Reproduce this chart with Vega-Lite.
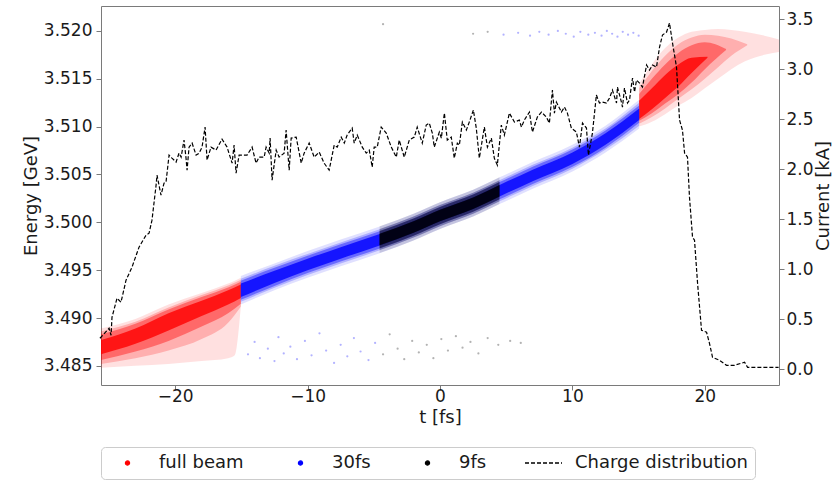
{
  "$schema": "https://vega.github.io/schema/vega-lite/v6.json",
  "width": 678,
  "height": 379,
  "autosize": {"type": "none"},
  "padding": {"left": 101, "top": 6, "right": 53, "bottom": 100},
  "config": {
    "font": "DejaVu Sans",
    "view": {"stroke": "#7a7a7a", "strokeWidth": 1},
    "axis": {
      "labelFont": "DejaVu Sans", "titleFont": "DejaVu Sans",
      "labelFontSize": 17, "titleFontSize": 18, "titleFontWeight": "normal",
      "labelColor": "#1a1a1a", "titleColor": "#1a1a1a",
      "tickColor": "#7a7a7a", "tickSize": 5, "domain": false, "grid": false,
      "labelFlush": false, "labelOverlap": false
    }
  },
  "datasets": {
    "band": [
      {"beam": "full beam", "part": "L", "level": "halo", "t": -25.6, "lo": 3.4848, "hi": 3.4889},
      {"beam": "full beam", "part": "L", "level": "halo", "t": -23, "lo": 3.4850, "hi": 3.4899},
      {"beam": "full beam", "part": "L", "level": "halo", "t": -20.5, "lo": 3.4852, "hi": 3.4914},
      {"beam": "full beam", "part": "L", "level": "halo", "t": -18, "lo": 3.4855, "hi": 3.4926},
      {"beam": "full beam", "part": "L", "level": "halo", "t": -16, "lo": 3.4858, "hi": 3.4936},
      {"beam": "full beam", "part": "L", "level": "halo", "t": -15.5, "lo": 3.4861, "hi": 3.4939},
      {"beam": "full beam", "part": "L", "level": "halo", "t": -15.04, "lo": 3.4912, "hi": 3.4942},
      {"beam": "full beam", "part": "L", "level": "outer", "t": -25.6, "lo": 3.4852, "hi": 3.4886},
      {"beam": "full beam", "part": "L", "level": "outer", "t": -23, "lo": 3.4858, "hi": 3.4896},
      {"beam": "full beam", "part": "L", "level": "outer", "t": -20.5, "lo": 3.4866, "hi": 3.4911},
      {"beam": "full beam", "part": "L", "level": "outer", "t": -18, "lo": 3.4878, "hi": 3.4924},
      {"beam": "full beam", "part": "L", "level": "outer", "t": -16, "lo": 3.4895, "hi": 3.4934},
      {"beam": "full beam", "part": "L", "level": "outer", "t": -15.04, "lo": 3.4912, "hi": 3.4940},
      {"beam": "full beam", "part": "L", "level": "mid", "t": -25.6, "lo": 3.4856, "hi": 3.4883},
      {"beam": "full beam", "part": "L", "level": "mid", "t": -23, "lo": 3.4865, "hi": 3.4894},
      {"beam": "full beam", "part": "L", "level": "mid", "t": -20.5, "lo": 3.4876, "hi": 3.4909},
      {"beam": "full beam", "part": "L", "level": "mid", "t": -18, "lo": 3.4891, "hi": 3.4922},
      {"beam": "full beam", "part": "L", "level": "mid", "t": -16, "lo": 3.4905, "hi": 3.4932},
      {"beam": "full beam", "part": "L", "level": "mid", "t": -15.04, "lo": 3.4915, "hi": 3.4938},
      {"beam": "full beam", "part": "L", "level": "core", "t": -25.6, "lo": 3.4862, "hi": 3.4877},
      {"beam": "full beam", "part": "L", "level": "core", "t": -23, "lo": 3.4873, "hi": 3.4889},
      {"beam": "full beam", "part": "L", "level": "core", "t": -20.5, "lo": 3.4887, "hi": 3.4905},
      {"beam": "full beam", "part": "L", "level": "core", "t": -18, "lo": 3.4902, "hi": 3.4918},
      {"beam": "full beam", "part": "L", "level": "core", "t": -16, "lo": 3.4914, "hi": 3.4929},
      {"beam": "full beam", "part": "L", "level": "core", "t": -15.04, "lo": 3.4921, "hi": 3.4935},

      {"beam": "full beam", "part": "R", "level": "halo", "t": 15.04, "lo": 3.5100, "hi": 3.5145},
      {"beam": "full beam", "part": "R", "level": "halo", "t": 16, "lo": 3.5105, "hi": 3.5165},
      {"beam": "full beam", "part": "R", "level": "halo", "t": 17, "lo": 3.5113, "hi": 3.5182},
      {"beam": "full beam", "part": "R", "level": "halo", "t": 18, "lo": 3.5122, "hi": 3.5193},
      {"beam": "full beam", "part": "R", "level": "halo", "t": 19, "lo": 3.5130, "hi": 3.5199},
      {"beam": "full beam", "part": "R", "level": "halo", "t": 20, "lo": 3.5140, "hi": 3.5201},
      {"beam": "full beam", "part": "R", "level": "halo", "t": 21, "lo": 3.5150, "hi": 3.5202},
      {"beam": "full beam", "part": "R", "level": "halo", "t": 22, "lo": 3.5160, "hi": 3.5201},
      {"beam": "full beam", "part": "R", "level": "halo", "t": 23, "lo": 3.5168, "hi": 3.5199},
      {"beam": "full beam", "part": "R", "level": "halo", "t": 24.5, "lo": 3.5175, "hi": 3.5195},
      {"beam": "full beam", "part": "R", "level": "halo", "t": 25.6, "lo": 3.5178, "hi": 3.5191},
      {"beam": "full beam", "part": "R", "level": "outer", "t": 15.04, "lo": 3.5103, "hi": 3.5140},
      {"beam": "full beam", "part": "R", "level": "outer", "t": 16, "lo": 3.5110, "hi": 3.5158},
      {"beam": "full beam", "part": "R", "level": "outer", "t": 17, "lo": 3.5119, "hi": 3.5174},
      {"beam": "full beam", "part": "R", "level": "outer", "t": 18, "lo": 3.5129, "hi": 3.5186},
      {"beam": "full beam", "part": "R", "level": "outer", "t": 19, "lo": 3.5139, "hi": 3.5193},
      {"beam": "full beam", "part": "R", "level": "outer", "t": 20, "lo": 3.5150, "hi": 3.5196},
      {"beam": "full beam", "part": "R", "level": "outer", "t": 21, "lo": 3.5162, "hi": 3.5195},
      {"beam": "full beam", "part": "R", "level": "outer", "t": 22, "lo": 3.5174, "hi": 3.5192},
      {"beam": "full beam", "part": "R", "level": "outer", "t": 23.2, "lo": 3.5185, "hi": 3.5186},
      {"beam": "full beam", "part": "R", "level": "mid", "t": 15.04, "lo": 3.5106, "hi": 3.5134},
      {"beam": "full beam", "part": "R", "level": "mid", "t": 16, "lo": 3.5114, "hi": 3.5150},
      {"beam": "full beam", "part": "R", "level": "mid", "t": 17, "lo": 3.5124, "hi": 3.5165},
      {"beam": "full beam", "part": "R", "level": "mid", "t": 18, "lo": 3.5134, "hi": 3.5177},
      {"beam": "full beam", "part": "R", "level": "mid", "t": 19, "lo": 3.5146, "hi": 3.5185},
      {"beam": "full beam", "part": "R", "level": "mid", "t": 20, "lo": 3.5160, "hi": 3.5188},
      {"beam": "full beam", "part": "R", "level": "mid", "t": 21.6, "lo": 3.5180, "hi": 3.5181},
      {"beam": "full beam", "part": "R", "level": "core", "t": 15.04, "lo": 3.5108, "hi": 3.5127},
      {"beam": "full beam", "part": "R", "level": "core", "t": 16, "lo": 3.5118, "hi": 3.5140},
      {"beam": "full beam", "part": "R", "level": "core", "t": 17, "lo": 3.5130, "hi": 3.5154},
      {"beam": "full beam", "part": "R", "level": "core", "t": 18, "lo": 3.5142, "hi": 3.5165},
      {"beam": "full beam", "part": "R", "level": "core", "t": 19, "lo": 3.5156, "hi": 3.5172},
      {"beam": "full beam", "part": "R", "level": "core", "t": 20.2, "lo": 3.5172, "hi": 3.5173},

      {"beam": "30fs", "part": "M", "level": "halo", "t": -15.04, "lo": 3.4914, "hi": 3.4944},
      {"beam": "30fs", "part": "M", "level": "halo", "t": -12.5, "lo": 3.4929, "hi": 3.4957},
      {"beam": "30fs", "part": "M", "level": "halo", "t": -10, "lo": 3.4942, "hi": 3.4970},
      {"beam": "30fs", "part": "M", "level": "halo", "t": -7.5, "lo": 3.4954, "hi": 3.4982},
      {"beam": "30fs", "part": "M", "level": "halo", "t": -4.5, "lo": 3.4968, "hi": 3.4996},
      {"beam": "30fs", "part": "M", "level": "halo", "t": -2, "lo": 3.4981, "hi": 3.5009},
      {"beam": "30fs", "part": "M", "level": "halo", "t": 0, "lo": 3.4993, "hi": 3.5021},
      {"beam": "30fs", "part": "M", "level": "halo", "t": 2.5, "lo": 3.5006, "hi": 3.5034},
      {"beam": "30fs", "part": "M", "level": "halo", "t": 4.5, "lo": 3.5019, "hi": 3.5047},
      {"beam": "30fs", "part": "M", "level": "halo", "t": 7, "lo": 3.5035, "hi": 3.5063},
      {"beam": "30fs", "part": "M", "level": "halo", "t": 10, "lo": 3.5053, "hi": 3.5081},
      {"beam": "30fs", "part": "M", "level": "halo", "t": 12.5, "lo": 3.5073, "hi": 3.5101},
      {"beam": "30fs", "part": "M", "level": "halo", "t": 15.04, "lo": 3.5098, "hi": 3.5128},
      {"beam": "30fs", "part": "M", "level": "outer", "t": -15.04, "lo": 3.4917, "hi": 3.4941},
      {"beam": "30fs", "part": "M", "level": "outer", "t": -12.5, "lo": 3.49315, "hi": 3.49545},
      {"beam": "30fs", "part": "M", "level": "outer", "t": -10, "lo": 3.4945, "hi": 3.4967},
      {"beam": "30fs", "part": "M", "level": "outer", "t": -7.5, "lo": 3.4957, "hi": 3.4979},
      {"beam": "30fs", "part": "M", "level": "outer", "t": -4.5, "lo": 3.4971, "hi": 3.4993},
      {"beam": "30fs", "part": "M", "level": "outer", "t": -2, "lo": 3.4984, "hi": 3.5006},
      {"beam": "30fs", "part": "M", "level": "outer", "t": 0, "lo": 3.4996, "hi": 3.5018},
      {"beam": "30fs", "part": "M", "level": "outer", "t": 2.5, "lo": 3.5009, "hi": 3.5031},
      {"beam": "30fs", "part": "M", "level": "outer", "t": 4.5, "lo": 3.5022, "hi": 3.5044},
      {"beam": "30fs", "part": "M", "level": "outer", "t": 7, "lo": 3.5038, "hi": 3.5060},
      {"beam": "30fs", "part": "M", "level": "outer", "t": 10, "lo": 3.5056, "hi": 3.5078},
      {"beam": "30fs", "part": "M", "level": "outer", "t": 12.5, "lo": 3.5076, "hi": 3.5098},
      {"beam": "30fs", "part": "M", "level": "outer", "t": 15.04, "lo": 3.5101, "hi": 3.5125},
      {"beam": "30fs", "part": "M", "level": "mid", "t": -15.04, "lo": 3.4919, "hi": 3.4939},
      {"beam": "30fs", "part": "M", "level": "mid", "t": -12.5, "lo": 3.49335, "hi": 3.49525},
      {"beam": "30fs", "part": "M", "level": "mid", "t": -10, "lo": 3.4947, "hi": 3.4965},
      {"beam": "30fs", "part": "M", "level": "mid", "t": -7.5, "lo": 3.4959, "hi": 3.4977},
      {"beam": "30fs", "part": "M", "level": "mid", "t": -4.5, "lo": 3.4973, "hi": 3.4991},
      {"beam": "30fs", "part": "M", "level": "mid", "t": -2, "lo": 3.4986, "hi": 3.5004},
      {"beam": "30fs", "part": "M", "level": "mid", "t": 0, "lo": 3.4998, "hi": 3.5016},
      {"beam": "30fs", "part": "M", "level": "mid", "t": 2.5, "lo": 3.5011, "hi": 3.5029},
      {"beam": "30fs", "part": "M", "level": "mid", "t": 4.5, "lo": 3.5024, "hi": 3.5042},
      {"beam": "30fs", "part": "M", "level": "mid", "t": 7, "lo": 3.5040, "hi": 3.5058},
      {"beam": "30fs", "part": "M", "level": "mid", "t": 10, "lo": 3.5058, "hi": 3.5076},
      {"beam": "30fs", "part": "M", "level": "mid", "t": 12.5, "lo": 3.5078, "hi": 3.5096},
      {"beam": "30fs", "part": "M", "level": "mid", "t": 15.04, "lo": 3.5104, "hi": 3.5122},
      {"beam": "30fs", "part": "M", "level": "core", "t": -15.04, "lo": 3.4922, "hi": 3.4936},
      {"beam": "30fs", "part": "M", "level": "core", "t": -12.5, "lo": 3.49365, "hi": 3.49495},
      {"beam": "30fs", "part": "M", "level": "core", "t": -10, "lo": 3.4950, "hi": 3.4962},
      {"beam": "30fs", "part": "M", "level": "core", "t": -7.5, "lo": 3.4962, "hi": 3.4974},
      {"beam": "30fs", "part": "M", "level": "core", "t": -4.5, "lo": 3.4976, "hi": 3.4988},
      {"beam": "30fs", "part": "M", "level": "core", "t": -2, "lo": 3.4989, "hi": 3.5001},
      {"beam": "30fs", "part": "M", "level": "core", "t": 0, "lo": 3.5001, "hi": 3.5013},
      {"beam": "30fs", "part": "M", "level": "core", "t": 2.5, "lo": 3.5014, "hi": 3.5026},
      {"beam": "30fs", "part": "M", "level": "core", "t": 4.5, "lo": 3.5027, "hi": 3.5039},
      {"beam": "30fs", "part": "M", "level": "core", "t": 7, "lo": 3.5043, "hi": 3.5055},
      {"beam": "30fs", "part": "M", "level": "core", "t": 10, "lo": 3.5061, "hi": 3.5073},
      {"beam": "30fs", "part": "M", "level": "core", "t": 12.5, "lo": 3.5081, "hi": 3.5093},
      {"beam": "30fs", "part": "M", "level": "core", "t": 15.04, "lo": 3.5107, "hi": 3.5119},

      {"beam": "9fs", "part": "M", "level": "halo", "t": -4.56, "lo": 3.4968, "hi": 3.4996},
      {"beam": "9fs", "part": "M", "level": "halo", "t": -2, "lo": 3.4981, "hi": 3.5009},
      {"beam": "9fs", "part": "M", "level": "halo", "t": 0, "lo": 3.4993, "hi": 3.5021},
      {"beam": "9fs", "part": "M", "level": "halo", "t": 2.5, "lo": 3.5006, "hi": 3.5034},
      {"beam": "9fs", "part": "M", "level": "halo", "t": 4.49, "lo": 3.5019, "hi": 3.5047},
      {"beam": "9fs", "part": "M", "level": "outer", "t": -4.56, "lo": 3.4971, "hi": 3.4993},
      {"beam": "9fs", "part": "M", "level": "outer", "t": -2, "lo": 3.4984, "hi": 3.5006},
      {"beam": "9fs", "part": "M", "level": "outer", "t": 0, "lo": 3.4996, "hi": 3.5018},
      {"beam": "9fs", "part": "M", "level": "outer", "t": 2.5, "lo": 3.5009, "hi": 3.5031},
      {"beam": "9fs", "part": "M", "level": "outer", "t": 4.49, "lo": 3.5022, "hi": 3.5044},
      {"beam": "9fs", "part": "M", "level": "mid", "t": -4.56, "lo": 3.4973, "hi": 3.4991},
      {"beam": "9fs", "part": "M", "level": "mid", "t": -2, "lo": 3.4986, "hi": 3.5004},
      {"beam": "9fs", "part": "M", "level": "mid", "t": 0, "lo": 3.4998, "hi": 3.5016},
      {"beam": "9fs", "part": "M", "level": "mid", "t": 2.5, "lo": 3.5011, "hi": 3.5029},
      {"beam": "9fs", "part": "M", "level": "mid", "t": 4.49, "lo": 3.5024, "hi": 3.5042},
      {"beam": "9fs", "part": "M", "level": "core", "t": -4.56, "lo": 3.4976, "hi": 3.4988},
      {"beam": "9fs", "part": "M", "level": "core", "t": -2, "lo": 3.4989, "hi": 3.5001},
      {"beam": "9fs", "part": "M", "level": "core", "t": 0, "lo": 3.5001, "hi": 3.5013},
      {"beam": "9fs", "part": "M", "level": "core", "t": 2.5, "lo": 3.5014, "hi": 3.5026},
      {"beam": "9fs", "part": "M", "level": "core", "t": 4.49, "lo": 3.5027, "hi": 3.5039}
    ],
    "halo": [
      {"beam": "30fs", "t": -14.5, "e": 3.4862}, {"beam": "30fs", "t": -14.0, "e": 3.4875},
      {"beam": "30fs", "t": -13.6, "e": 3.4858}, {"beam": "30fs", "t": -13.0, "e": 3.4868},
      {"beam": "30fs", "t": -12.5, "e": 3.4855}, {"beam": "30fs", "t": -12.2, "e": 3.4880},
      {"beam": "30fs", "t": -11.8, "e": 3.4863}, {"beam": "30fs", "t": -11.3, "e": 3.4870},
      {"beam": "30fs", "t": -10.8, "e": 3.4857}, {"beam": "30fs", "t": -10.2, "e": 3.4876},
      {"beam": "30fs", "t": -9.7, "e": 3.4861}, {"beam": "30fs", "t": -9.1, "e": 3.4884},
      {"beam": "30fs", "t": -8.6, "e": 3.4866}, {"beam": "30fs", "t": -8.0, "e": 3.4853},
      {"beam": "30fs", "t": -7.5, "e": 3.4872}, {"beam": "30fs", "t": -7.0, "e": 3.4860},
      {"beam": "30fs", "t": -6.5, "e": 3.4879}, {"beam": "30fs", "t": -6.0, "e": 3.4865},
      {"beam": "30fs", "t": -5.4, "e": 3.4856}, {"beam": "30fs", "t": -4.9, "e": 3.4874},
      {"beam": "9fs", "t": -4.3, "e": 3.4862}, {"beam": "9fs", "t": -3.8, "e": 3.4883},
      {"beam": "9fs", "t": -3.2, "e": 3.4868}, {"beam": "9fs", "t": -2.7, "e": 3.4857},
      {"beam": "9fs", "t": -2.1, "e": 3.4876}, {"beam": "9fs", "t": -1.6, "e": 3.4864},
      {"beam": "9fs", "t": -1.0, "e": 3.4872}, {"beam": "9fs", "t": -0.5, "e": 3.4858},
      {"beam": "9fs", "t": 0.1, "e": 3.4878}, {"beam": "9fs", "t": 0.6, "e": 3.4866},
      {"beam": "9fs", "t": 1.2, "e": 3.4881}, {"beam": "9fs", "t": 1.7, "e": 3.4869},
      {"beam": "9fs", "t": 2.3, "e": 3.4875}, {"beam": "9fs", "t": 2.9, "e": 3.4863},
      {"beam": "9fs", "t": 3.6, "e": 3.4879}, {"beam": "9fs", "t": 4.4, "e": 3.4872},
      {"beam": "9fs", "t": 5.3, "e": 3.4876}, {"beam": "9fs", "t": 6.1, "e": 3.4874},
      {"beam": "9fs", "t": -4.3, "e": 3.5207}, {"beam": "9fs", "t": 2.5, "e": 3.5197},
      {"beam": "9fs", "t": 3.6, "e": 3.5199}, {"beam": "30fs", "t": 4.8, "e": 3.5196},
      {"beam": "30fs", "t": 5.9, "e": 3.5198}, {"beam": "30fs", "t": 6.8, "e": 3.5195},
      {"beam": "30fs", "t": 7.5, "e": 3.5199}, {"beam": "30fs", "t": 8.2, "e": 3.5196},
      {"beam": "30fs", "t": 8.9, "e": 3.5200}, {"beam": "30fs", "t": 9.5, "e": 3.5197},
      {"beam": "30fs", "t": 10.1, "e": 3.5194}, {"beam": "30fs", "t": 10.6, "e": 3.5199},
      {"beam": "30fs", "t": 11.2, "e": 3.5196}, {"beam": "30fs", "t": 11.7, "e": 3.5198},
      {"beam": "30fs", "t": 12.2, "e": 3.5195}, {"beam": "30fs", "t": 12.6, "e": 3.5200},
      {"beam": "30fs", "t": 13.0, "e": 3.5197}, {"beam": "30fs", "t": 13.4, "e": 3.5194},
      {"beam": "30fs", "t": 13.8, "e": 3.5199}, {"beam": "30fs", "t": 14.2, "e": 3.5196},
      {"beam": "30fs", "t": 14.6, "e": 3.5198}, {"beam": "30fs", "t": 15.0, "e": 3.5195}
    ],
    "cur": [
      {"beam": "Charge distribution", "t": -25.68, "kA": 0.31},
      {"beam": "Charge distribution", "t": -24.99, "kA": 0.41},
      {"beam": "Charge distribution", "t": -24.84, "kA": 0.34},
      {"beam": "Charge distribution", "t": -24.77, "kA": 0.52},
      {"beam": "Charge distribution", "t": -24.39, "kA": 0.71},
      {"beam": "Charge distribution", "t": -24.09, "kA": 0.67},
      {"beam": "Charge distribution", "t": -23.71, "kA": 0.89},
      {"beam": "Charge distribution", "t": -23.26, "kA": 1.02},
      {"beam": "Charge distribution", "t": -22.73, "kA": 1.22},
      {"beam": "Charge distribution", "t": -22.20, "kA": 1.34},
      {"beam": "Charge distribution", "t": -21.97, "kA": 1.36},
      {"beam": "Charge distribution", "t": -21.75, "kA": 1.49},
      {"beam": "Charge distribution", "t": -21.44, "kA": 1.84},
      {"beam": "Charge distribution", "t": -21.37, "kA": 1.94},
      {"beam": "Charge distribution", "t": -21.07, "kA": 1.74},
      {"beam": "Charge distribution", "t": -20.84, "kA": 1.86},
      {"beam": "Charge distribution", "t": -20.69, "kA": 1.87},
      {"beam": "Charge distribution", "t": -20.46, "kA": 2.14},
      {"beam": "Charge distribution", "t": -20.24, "kA": 2.11},
      {"beam": "Charge distribution", "t": -19.93, "kA": 2.07},
      {"beam": "Charge distribution", "t": -19.71, "kA": 2.16},
      {"beam": "Charge distribution", "t": -19.55, "kA": 2.12},
      {"beam": "Charge distribution", "t": -19.33, "kA": 2.29},
      {"beam": "Charge distribution", "t": -19.18, "kA": 2.11},
      {"beam": "Charge distribution", "t": -19.10, "kA": 1.99},
      {"beam": "Charge distribution", "t": -18.95, "kA": 2.22},
      {"beam": "Charge distribution", "t": -18.72, "kA": 2.26},
      {"beam": "Charge distribution", "t": -18.42, "kA": 2.14},
      {"beam": "Charge distribution", "t": -18.19, "kA": 2.16},
      {"beam": "Charge distribution", "t": -17.97, "kA": 2.22},
      {"beam": "Charge distribution", "t": -17.74, "kA": 2.42},
      {"beam": "Charge distribution", "t": -17.59, "kA": 2.09},
      {"beam": "Charge distribution", "t": -17.29, "kA": 2.22},
      {"beam": "Charge distribution", "t": -16.91, "kA": 2.19},
      {"beam": "Charge distribution", "t": -16.46, "kA": 2.30},
      {"beam": "Charge distribution", "t": -16.08, "kA": 2.22},
      {"beam": "Charge distribution", "t": -15.70, "kA": 2.06},
      {"beam": "Charge distribution", "t": -15.55, "kA": 2.24},
      {"beam": "Charge distribution", "t": -15.40, "kA": 1.96},
      {"beam": "Charge distribution", "t": -15.17, "kA": 2.14},
      {"beam": "Charge distribution", "t": -14.79, "kA": 2.14},
      {"beam": "Charge distribution", "t": -14.57, "kA": 2.14},
      {"beam": "Charge distribution", "t": -14.19, "kA": 2.22},
      {"beam": "Charge distribution", "t": -13.89, "kA": 2.06},
      {"beam": "Charge distribution", "t": -13.66, "kA": 2.12},
      {"beam": "Charge distribution", "t": -13.28, "kA": 2.12},
      {"beam": "Charge distribution", "t": -13.13, "kA": 2.22},
      {"beam": "Charge distribution", "t": -12.90, "kA": 2.16},
      {"beam": "Charge distribution", "t": -12.83, "kA": 2.31},
      {"beam": "Charge distribution", "t": -12.68, "kA": 1.89},
      {"beam": "Charge distribution", "t": -12.37, "kA": 2.19},
      {"beam": "Charge distribution", "t": -12.15, "kA": 2.12},
      {"beam": "Charge distribution", "t": -11.77, "kA": 2.16},
      {"beam": "Charge distribution", "t": -11.62, "kA": 2.39},
      {"beam": "Charge distribution", "t": -11.39, "kA": 1.99},
      {"beam": "Charge distribution", "t": -11.24, "kA": 2.31},
      {"beam": "Charge distribution", "t": -10.86, "kA": 2.32},
      {"beam": "Charge distribution", "t": -10.48, "kA": 2.06},
      {"beam": "Charge distribution", "t": -10.26, "kA": 2.16},
      {"beam": "Charge distribution", "t": -9.88, "kA": 2.26},
      {"beam": "Charge distribution", "t": -9.50, "kA": 2.12},
      {"beam": "Charge distribution", "t": -9.12, "kA": 2.17},
      {"beam": "Charge distribution", "t": -8.75, "kA": 2.06},
      {"beam": "Charge distribution", "t": -8.37, "kA": 1.99},
      {"beam": "Charge distribution", "t": -7.99, "kA": 2.24},
      {"beam": "Charge distribution", "t": -7.76, "kA": 2.22},
      {"beam": "Charge distribution", "t": -7.46, "kA": 2.32},
      {"beam": "Charge distribution", "t": -7.23, "kA": 2.26},
      {"beam": "Charge distribution", "t": -7.01, "kA": 2.34},
      {"beam": "Charge distribution", "t": -6.63, "kA": 2.41},
      {"beam": "Charge distribution", "t": -6.48, "kA": 2.26},
      {"beam": "Charge distribution", "t": -6.25, "kA": 2.34},
      {"beam": "Charge distribution", "t": -5.87, "kA": 2.22},
      {"beam": "Charge distribution", "t": -5.57, "kA": 2.16},
      {"beam": "Charge distribution", "t": -5.34, "kA": 2.19},
      {"beam": "Charge distribution", "t": -5.12, "kA": 2.02},
      {"beam": "Charge distribution", "t": -4.97, "kA": 2.22},
      {"beam": "Charge distribution", "t": -4.74, "kA": 2.22},
      {"beam": "Charge distribution", "t": -4.44, "kA": 2.42},
      {"beam": "Charge distribution", "t": -4.06, "kA": 2.36},
      {"beam": "Charge distribution", "t": -3.68, "kA": 2.22},
      {"beam": "Charge distribution", "t": -3.30, "kA": 2.12},
      {"beam": "Charge distribution", "t": -3.08, "kA": 2.29},
      {"beam": "Charge distribution", "t": -2.70, "kA": 2.12},
      {"beam": "Charge distribution", "t": -2.32, "kA": 2.29},
      {"beam": "Charge distribution", "t": -1.94, "kA": 2.32},
      {"beam": "Charge distribution", "t": -1.72, "kA": 2.42},
      {"beam": "Charge distribution", "t": -1.34, "kA": 2.26},
      {"beam": "Charge distribution", "t": -1.04, "kA": 2.44},
      {"beam": "Charge distribution", "t": -0.81, "kA": 2.46},
      {"beam": "Charge distribution", "t": -0.58, "kA": 2.36},
      {"beam": "Charge distribution", "t": -0.43, "kA": 2.22},
      {"beam": "Charge distribution", "t": -0.05, "kA": 2.37},
      {"beam": "Charge distribution", "t": 0.10, "kA": 2.31},
      {"beam": "Charge distribution", "t": 0.33, "kA": 2.56},
      {"beam": "Charge distribution", "t": 0.55, "kA": 2.29},
      {"beam": "Charge distribution", "t": 0.85, "kA": 2.32},
      {"beam": "Charge distribution", "t": 1.08, "kA": 2.11},
      {"beam": "Charge distribution", "t": 1.31, "kA": 2.26},
      {"beam": "Charge distribution", "t": 1.46, "kA": 2.24},
      {"beam": "Charge distribution", "t": 1.69, "kA": 2.47},
      {"beam": "Charge distribution", "t": 1.99, "kA": 2.39},
      {"beam": "Charge distribution", "t": 2.21, "kA": 2.47},
      {"beam": "Charge distribution", "t": 2.52, "kA": 2.59},
      {"beam": "Charge distribution", "t": 2.74, "kA": 2.41},
      {"beam": "Charge distribution", "t": 2.97, "kA": 2.11},
      {"beam": "Charge distribution", "t": 3.35, "kA": 2.42},
      {"beam": "Charge distribution", "t": 3.58, "kA": 2.22},
      {"beam": "Charge distribution", "t": 3.88, "kA": 2.31},
      {"beam": "Charge distribution", "t": 4.10, "kA": 2.11},
      {"beam": "Charge distribution", "t": 4.33, "kA": 2.04},
      {"beam": "Charge distribution", "t": 4.63, "kA": 2.44},
      {"beam": "Charge distribution", "t": 4.86, "kA": 2.34},
      {"beam": "Charge distribution", "t": 5.24, "kA": 2.56},
      {"beam": "Charge distribution", "t": 5.62, "kA": 2.47},
      {"beam": "Charge distribution", "t": 5.99, "kA": 2.49},
      {"beam": "Charge distribution", "t": 6.15, "kA": 2.42},
      {"beam": "Charge distribution", "t": 6.37, "kA": 2.49},
      {"beam": "Charge distribution", "t": 6.75, "kA": 2.57},
      {"beam": "Charge distribution", "t": 6.98, "kA": 2.37},
      {"beam": "Charge distribution", "t": 7.35, "kA": 2.52},
      {"beam": "Charge distribution", "t": 7.66, "kA": 2.57},
      {"beam": "Charge distribution", "t": 8.03, "kA": 2.52},
      {"beam": "Charge distribution", "t": 8.26, "kA": 2.46},
      {"beam": "Charge distribution", "t": 8.49, "kA": 2.79},
      {"beam": "Charge distribution", "t": 8.64, "kA": 2.56},
      {"beam": "Charge distribution", "t": 8.79, "kA": 2.67},
      {"beam": "Charge distribution", "t": 9.17, "kA": 2.57},
      {"beam": "Charge distribution", "t": 9.40, "kA": 2.62},
      {"beam": "Charge distribution", "t": 9.62, "kA": 2.56},
      {"beam": "Charge distribution", "t": 9.92, "kA": 2.41},
      {"beam": "Charge distribution", "t": 10.30, "kA": 2.37},
      {"beam": "Charge distribution", "t": 10.53, "kA": 2.22},
      {"beam": "Charge distribution", "t": 10.76, "kA": 2.46},
      {"beam": "Charge distribution", "t": 11.06, "kA": 2.41},
      {"beam": "Charge distribution", "t": 11.21, "kA": 2.14},
      {"beam": "Charge distribution", "t": 11.51, "kA": 2.36},
      {"beam": "Charge distribution", "t": 11.81, "kA": 2.74},
      {"beam": "Charge distribution", "t": 12.04, "kA": 2.66},
      {"beam": "Charge distribution", "t": 12.27, "kA": 2.67},
      {"beam": "Charge distribution", "t": 12.57, "kA": 2.66},
      {"beam": "Charge distribution", "t": 12.80, "kA": 2.71},
      {"beam": "Charge distribution", "t": 13.02, "kA": 2.79},
      {"beam": "Charge distribution", "t": 13.33, "kA": 2.66},
      {"beam": "Charge distribution", "t": 13.40, "kA": 2.82},
      {"beam": "Charge distribution", "t": 13.70, "kA": 2.67},
      {"beam": "Charge distribution", "t": 13.78, "kA": 2.62},
      {"beam": "Charge distribution", "t": 13.93, "kA": 2.81},
      {"beam": "Charge distribution", "t": 14.16, "kA": 2.66},
      {"beam": "Charge distribution", "t": 14.31, "kA": 2.69},
      {"beam": "Charge distribution", "t": 14.46, "kA": 2.84},
      {"beam": "Charge distribution", "t": 14.54, "kA": 2.91},
      {"beam": "Charge distribution", "t": 14.69, "kA": 2.77},
      {"beam": "Charge distribution", "t": 14.84, "kA": 2.89},
      {"beam": "Charge distribution", "t": 15.07, "kA": 2.86},
      {"beam": "Charge distribution", "t": 15.29, "kA": 2.82},
      {"beam": "Charge distribution", "t": 15.60, "kA": 3.04},
      {"beam": "Charge distribution", "t": 15.82, "kA": 2.99},
      {"beam": "Charge distribution", "t": 16.05, "kA": 3.04},
      {"beam": "Charge distribution", "t": 16.35, "kA": 3.02},
      {"beam": "Charge distribution", "t": 16.58, "kA": 3.22},
      {"beam": "Charge distribution", "t": 16.80, "kA": 3.34},
      {"beam": "Charge distribution", "t": 17.11, "kA": 3.37},
      {"beam": "Charge distribution", "t": 17.33, "kA": 3.46},
      {"beam": "Charge distribution", "t": 17.56, "kA": 3.26},
      {"beam": "Charge distribution", "t": 17.86, "kA": 3.02},
      {"beam": "Charge distribution", "t": 18.09, "kA": 2.49},
      {"beam": "Charge distribution", "t": 18.31, "kA": 2.39},
      {"beam": "Charge distribution", "t": 18.47, "kA": 2.16},
      {"beam": "Charge distribution", "t": 18.69, "kA": 2.12},
      {"beam": "Charge distribution", "t": 18.84, "kA": 1.72},
      {"beam": "Charge distribution", "t": 19.07, "kA": 1.32},
      {"beam": "Charge distribution", "t": 19.22, "kA": 1.29},
      {"beam": "Charge distribution", "t": 19.45, "kA": 0.86},
      {"beam": "Charge distribution", "t": 19.75, "kA": 0.39},
      {"beam": "Charge distribution", "t": 20.13, "kA": 0.37},
      {"beam": "Charge distribution", "t": 20.35, "kA": 0.26},
      {"beam": "Charge distribution", "t": 20.58, "kA": 0.12},
      {"beam": "Charge distribution", "t": 21.11, "kA": 0.09},
      {"beam": "Charge distribution", "t": 21.64, "kA": 0.04},
      {"beam": "Charge distribution", "t": 22.24, "kA": 0.04},
      {"beam": "Charge distribution", "t": 23.00, "kA": 0.07},
      {"beam": "Charge distribution", "t": 23.23, "kA": 0.02},
      {"beam": "Charge distribution", "t": 24.13, "kA": 0.02},
      {"beam": "Charge distribution", "t": 24.89, "kA": 0.02},
      {"beam": "Charge distribution", "t": 25.57, "kA": 0.02}
    ]
  },
  "layer": [
    {
      "layer": [
        {
          "data": {"name": "band"},
          "transform": [{"filter": "datum.beam === 'full beam'"}],
          "mark": {"type": "area", "interpolate": "monotone", "strokeWidth": 0},
          "encoding": {
            "x": {"field": "t", "type": "quantitative", "scale": {"domain": [-25.6, 25.6], "nice": false, "zero": false},
                  "axis": {"title": "t [fs]", "values": [-20, -10, 0, 10, 20], "labelPadding": -2, "titleY": 23, "titleBaseline": "top"}},
            "y": {"field": "hi", "type": "quantitative", "scale": {"domain": [3.483, 3.5226], "nice": false, "zero": false},
                  "axis": {"title": "Energy [GeV]", "format": ".3f", "values": [3.485, 3.49, 3.495, 3.5, 3.505, 3.51, 3.515, 3.52], "labelPadding": 4, "titleX": -65, "titleBaseline": "alphabetic", "titleAngle": 270}},
            "y2": {"field": "lo"},
            "detail": {"field": "part"},
            "color": {"field": "beam", "type": "nominal",
                      "scale": {"domain": ["full beam", "30fs", "9fs", "Charge distribution"], "range": ["#ff0000", "#0000ff", "#000000", "#000000"]},
                      "legend": {
                        "orient": "none", "legendX": 0, "legendY": 441, "direction": "horizontal", "title": null,
                        "symbolType": "circle", "symbolSize": 1369, "symbolStrokeWidth": 1.3, "symbolOpacity": 1,
                        "labelFont": "DejaVu Sans", "labelFontSize": 18, "labelColor": "#1a1a1a", "labelOffset": 12, "labelLimit": 300,
                        "columnPadding": 37, "padding": 7, "strokeColor": "#cccccc", "cornerRadius": 4, "fillColor": "#ffffff", "clipHeight": 18,
                        "encode": {
                          "symbols": {
                            "update": {
                              "shape": {"signal": "datum.value === 'Charge distribution' ? 'stroke' : 'M-0.11,0A0.11,0.11,0,1,1,0.11,0A0.11,0.11,0,1,1,-0.11,0Z'"},
                              "fill": {"signal": "datum.value === 'Charge distribution' ? 'transparent' : scale('color', datum.value)"},
                              "stroke": {"signal": "datum.value === 'Charge distribution' ? '#000000' : 'transparent'"},
                              "strokeDash": {"signal": "datum.value === 'Charge distribution' ? [4, 2] : [1, 0]"},
                              "opacity": {"value": 1}
                            }
                          }
                        }
                      }},
            "opacity": {"field": "level", "type": "ordinal", "sort": ["halo", "outer", "mid", "core"], "scale": {"type": "ordinal", "domain": ["halo", "outer", "mid", "core"], "range": [0.12, 0.22, 0.4, 0.8]}, "legend": null}
          }
        },
        {
          "data": {"name": "band"},
          "transform": [{"filter": "datum.beam === '30fs'"}],
          "mark": {"type": "area", "interpolate": "monotone", "strokeWidth": 0},
          "encoding": {
            "x": {"field": "t", "type": "quantitative"},
            "y": {"field": "hi", "type": "quantitative"},
            "y2": {"field": "lo"},
            "detail": {"field": "part"},
            "color": {"field": "beam", "type": "nominal"},
            "opacity": {"field": "level", "type": "ordinal", "sort": ["halo", "outer", "mid", "core"], "scale": {"type": "ordinal", "domain": ["halo", "outer", "mid", "core"], "range": [0.12, 0.22, 0.4, 0.8]}, "legend": null}
          }
        },
        {
          "data": {"name": "band"},
          "transform": [{"filter": "datum.beam === '9fs'"}],
          "mark": {"type": "area", "interpolate": "monotone", "strokeWidth": 0},
          "encoding": {
            "x": {"field": "t", "type": "quantitative"},
            "y": {"field": "hi", "type": "quantitative"},
            "y2": {"field": "lo"},
            "detail": {"field": "part"},
            "color": {"field": "beam", "type": "nominal"},
            "opacity": {"field": "level", "type": "ordinal", "sort": ["halo", "outer", "mid", "core"], "scale": {"type": "ordinal", "domain": ["halo", "outer", "mid", "core"], "range": [0.12, 0.22, 0.4, 0.8]}, "legend": null}
          }
        },
        {
          "data": {"name": "halo"},
          "mark": {"type": "circle", "size": 5, "opacity": 0.3},
          "encoding": {
            "x": {"field": "t", "type": "quantitative"},
            "y": {"field": "e", "type": "quantitative"},
            "color": {"field": "beam", "type": "nominal"}
          }
        }
      ]
    },
    {
      "data": {"name": "cur"},
      "mark": {"type": "line", "strokeDash": [4, 2], "strokeWidth": 1.2},
      "encoding": {
        "x": {"field": "t", "type": "quantitative"},
        "y": {"field": "kA", "type": "quantitative", "scale": {"domain": [-0.157, 3.63], "nice": false, "zero": false},
              "axis": {"orient": "right", "title": "Current [kA]", "format": ".1f", "values": [0, 0.5, 1, 1.5, 2, 2.5, 3, 3.5], "labelPadding": 2, "titleX": 49, "titleBaseline": "alphabetic", "titleAngle": 270}},
        "color": {"field": "beam", "type": "nominal"}
      }
    }
  ],
  "resolve": {"scale": {"y": "independent"}}
}
